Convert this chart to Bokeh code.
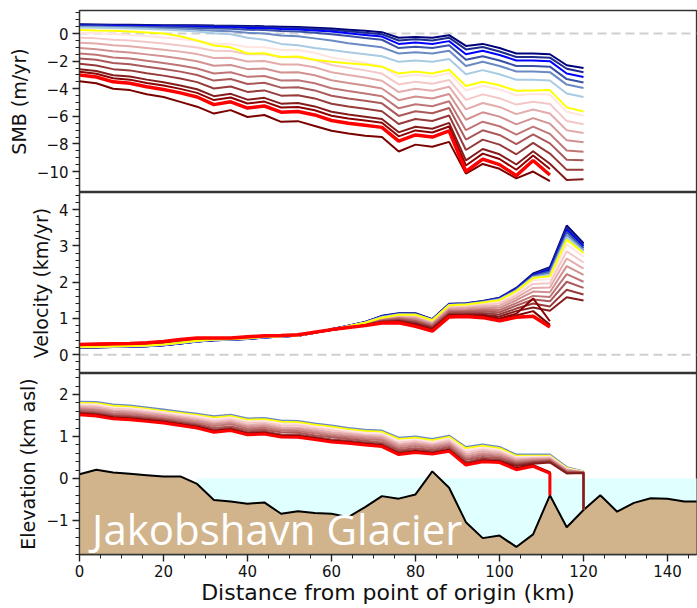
from bokeh.plotting import figure
from bokeh.layouts import column
from bokeh.models import Range1d, SingleIntervalTicker, Span, CustomJSTickFormatter
from bokeh.embed import file_html
from bokeh.resources import INLINE
from bokeh.core.properties import value

# ---------------- data ----------------
dist = [0, 4, 8, 12, 16, 20, 24, 28, 32, 36, 40, 44, 48, 52, 56, 60, 64, 68, 72, 76,
        80, 84, 88, 92, 96, 100, 104, 108, 112, 116, 120]

# SMB (m/yr)
smb_navy = [0.68,0.66,0.64,0.63,0.62,0.61,0.60,0.60,0.58,0.57,0.55,0.52,0.50,0.47,0.42,0.36,0.28,0.20,0.10,-0.30,-0.25,-0.30,-0.12,-0.90,-0.75,-1.05,-1.45,-1.45,-1.50,-2.30,-2.50]
smb_blue2 = [0.64,0.62,0.60,0.59,0.58,0.57,0.56,0.55,0.53,0.52,0.49,0.46,0.42,0.40,0.33,0.26,0.16,0.06,-0.05,-0.50,-0.42,-0.50,-0.30,-1.15,-0.98,-1.30,-1.70,-1.70,-1.75,-2.55,-2.80]
smb_blue3 = [0.58,0.57,0.56,0.55,0.54,0.52,0.51,0.49,0.46,0.45,0.41,0.38,0.33,0.30,0.22,0.14,0.02,-0.10,-0.22,-0.75,-0.65,-0.75,-0.55,-1.50,-1.25,-1.55,-1.95,-1.95,-2.00,-2.90,-3.15]
smb_blue4 = [0.53,0.52,0.50,0.49,0.47,0.45,0.43,0.40,0.36,0.34,0.28,0.25,0.18,0.14,0.05,-0.05,-0.18,-0.32,-0.45,-1.05,-0.95,-1.05,-0.85,-1.90,-1.65,-1.95,-2.35,-2.35,-2.40,-3.30,-3.55]
smb_blue5 = [0.48,0.47,0.45,0.43,0.40,0.37,0.33,0.28,0.20,0.16,0.05,0.00,-0.15,-0.20,-0.35,-0.50,-0.70,-0.85,-1.00,-1.45,-1.35,-1.45,-1.25,-2.35,-2.05,-2.35,-2.75,-2.75,-2.80,-3.70,-3.95]
smb_blue6 = [0.43,0.42,0.40,0.37,0.33,0.28,0.22,0.14,0.02,-0.05,-0.30,-0.45,-0.75,-0.85,-1.05,-1.20,-1.35,-1.50,-1.65,-2.05,-1.95,-2.05,-1.85,-2.95,-2.65,-2.95,-3.35,-3.35,-3.40,-4.35,-4.60]
smb_yellow = [0.25,0.22,0.20,0.15,0.08,0.00,-0.20,-0.50,-0.87,-1.00,-1.45,-1.43,-1.70,-1.67,-1.90,-2.05,-2.15,-2.25,-2.40,-2.90,-2.75,-2.90,-2.63,-3.80,-3.50,-3.75,-4.15,-4.12,-4.10,-5.35,-5.65]
smb_p1 = [0.06,0.02,-0.04,-0.10,-0.18,-0.29,-0.40,-0.54,-0.73,-0.77,-0.98,-0.99,-1.19,-1.20,-1.39,-1.74,-1.94,-2.14,-2.38,-3.15,-2.98,-3.13,-2.87,-4.13,-3.79,-4.05,-4.47,-4.39,-4.42,-5.67,-5.94]
smb_p2 = [-0.30,-0.35,-0.45,-0.51,-0.61,-0.73,-0.86,-1.01,-1.25,-1.26,-1.50,-1.49,-1.72,-1.72,-1.92,-2.28,-2.48,-2.67,-2.90,-3.69,-3.49,-3.64,-3.36,-4.81,-4.41,-4.69,-5.15,-4.95,-5.10,-6.34,-6.57]
smb_p3 = [-0.66,-0.72,-0.85,-0.92,-1.04,-1.17,-1.31,-1.49,-1.77,-1.75,-2.02,-1.99,-2.24,-2.24,-2.44,-2.81,-3.01,-3.19,-3.42,-4.24,-4.00,-4.15,-3.85,-5.50,-5.03,-5.32,-5.84,-5.51,-5.79,-7.01,-7.20]
smb_p4 = [-1.05,-1.13,-1.29,-1.37,-1.51,-1.65,-1.81,-2.01,-2.33,-2.28,-2.58,-2.53,-2.82,-2.81,-3.02,-3.39,-3.59,-3.77,-3.98,-4.83,-4.56,-4.71,-4.38,-6.25,-5.71,-6.02,-6.58,-6.13,-6.53,-7.74,-7.88]
smb_p5 = [-1.44,-1.53,-1.73,-1.81,-1.98,-2.13,-2.31,-2.53,-2.89,-2.81,-3.14,-3.08,-3.40,-3.38,-3.60,-3.97,-4.17,-4.35,-4.54,-5.42,-5.12,-5.27,-4.91,-7.00,-6.39,-6.72,-7.32,-6.74,-7.27,-8.47,-8.56]
smb_p6 = [-1.80,-1.90,-2.14,-2.22,-2.41,-2.57,-2.76,-3.00,-3.41,-3.30,-3.66,-3.57,-3.92,-3.90,-4.12,-4.51,-4.71,-4.87,-5.06,-5.97,-5.63,-5.78,-5.40,-7.69,-7.01,-7.35,-8.01,-7.31,-7.96,-9.14,-9.19]
smb_p7 = [-2.19,-2.31,-2.58,-2.67,-2.88,-3.05,-3.26,-3.52,-3.98,-3.84,-4.23,-4.12,-4.50,-4.47,-4.70,-5.09,-5.29,-5.45,-5.63,-6.56,-6.19,-6.34,-5.94,-8.44,-7.69,-8.05,-8.75,-7.92,-8.70,-9.88,-9.88]
smb_p8 = [-2.58,-2.71,-3.02,-3.12,-3.34,-3.53,-3.76,-4.04,-4.54,-4.37,-4.79,-4.66,-5.08,-5.04,-5.28,-5.67,-5.87,-6.03,-6.19,-7.16,-6.75,-6.90,-6.47,-9.19,-8.37,-8.75,-9.49,-8.53,-9.44,-10.61,-10.56]
smb_d1 = [-2.77,-2.91,-3.24,-3.34,-3.58,-3.77,-4.01,-4.30,-4.82,-4.64,-5.07,-4.93,-5.36,-5.32,-5.56,-5.96,-6.16,-6.31,-6.47,-7.45,-7.02,-7.17,-6.74,-9.56,-8.70,-9.09,-9.87,-8.84,-9.82]
smb_red = [-3.00,-3.15,-3.50,-3.60,-3.85,-4.05,-4.30,-4.60,-5.15,-4.95,-5.40,-5.25,-5.70,-5.65,-5.90,-6.30,-6.50,-6.65,-6.80,-7.80,-7.35,-7.50,-7.05,-10.00,-9.10,-9.50,-10.30,-9.20,-10.25]
smb_dark = [-3.45,-3.60,-4.00,-4.10,-4.40,-4.60,-4.95,-5.30,-5.80,-5.55,-6.05,-5.90,-6.40,-6.35,-6.70,-7.05,-7.25,-7.40,-7.50,-8.55,-8.05,-8.20,-7.85,-10.15,-9.45,-9.80,-10.50,-10.00,-10.70]

# Velocity (km/yr)
vel_navy = [0.20,0.20,0.21,0.22,0.23,0.26,0.31,0.36,0.40,0.41,0.43,0.47,0.50,0.52,0.60,0.70,0.80,0.90,1.07,1.14,1.14,0.98,1.40,1.42,1.48,1.57,1.84,2.24,2.41,3.56,3.07]
vel_blue2 = [0.20,0.20,0.21,0.22,0.23,0.26,0.31,0.36,0.40,0.41,0.43,0.47,0.50,0.52,0.60,0.70,0.80,0.90,1.06,1.13,1.13,0.97,1.39,1.41,1.47,1.56,1.82,2.21,2.38,3.50,3.03]
vel_blue3 = [0.21,0.21,0.21,0.22,0.23,0.26,0.31,0.36,0.40,0.41,0.44,0.47,0.50,0.52,0.60,0.70,0.79,0.89,1.06,1.13,1.12,0.97,1.39,1.40,1.46,1.55,1.81,2.19,2.34,3.44,2.98]
vel_blue4 = [0.21,0.21,0.22,0.23,0.24,0.27,0.32,0.37,0.41,0.42,0.44,0.48,0.50,0.52,0.60,0.70,0.79,0.89,1.05,1.12,1.12,0.96,1.38,1.40,1.46,1.54,1.79,2.17,2.30,3.38,2.93]
vel_blue5 = [0.21,0.21,0.22,0.23,0.24,0.27,0.32,0.37,0.41,0.42,0.44,0.48,0.51,0.53,0.60,0.69,0.79,0.89,1.04,1.11,1.11,0.96,1.37,1.39,1.45,1.53,1.78,2.15,2.25,3.30,2.88]
vel_blue6 = [0.22,0.22,0.22,0.23,0.24,0.27,0.32,0.37,0.41,0.42,0.45,0.48,0.51,0.53,0.61,0.69,0.78,0.88,1.03,1.11,1.10,0.95,1.37,1.38,1.44,1.52,1.76,2.13,2.20,3.24,2.84]
vel_yellow = [0.22,0.22,0.23,0.24,0.25,0.28,0.33,0.38,0.42,0.43,0.45,0.49,0.51,0.53,0.61,0.69,0.78,0.88,1.02,1.10,1.10,0.95,1.36,1.38,1.44,1.50,1.75,2.11,2.16,3.17,2.80]
vel_p1 = [0.22,0.22,0.23,0.24,0.26,0.29,0.34,0.39,0.42,0.43,0.45,0.49,0.51,0.53,0.61,0.69,0.78,0.87,1.01,1.09,1.08,0.93,1.34,1.36,1.41,1.46,1.71,2.05,2.08,3.04,2.70]
vel_p2 = [0.23,0.23,0.24,0.25,0.26,0.29,0.35,0.39,0.43,0.43,0.46,0.49,0.51,0.53,0.61,0.69,0.77,0.87,1.00,1.07,1.05,0.90,1.31,1.32,1.37,1.41,1.64,1.95,1.97,2.85,2.54]
vel_p3 = [0.24,0.24,0.25,0.26,0.27,0.30,0.36,0.40,0.43,0.44,0.46,0.50,0.51,0.53,0.61,0.69,0.77,0.86,0.98,1.04,1.02,0.87,1.27,1.29,1.33,1.35,1.57,1.84,1.85,2.65,2.37]
vel_p4 = [0.24,0.25,0.26,0.27,0.28,0.31,0.37,0.41,0.43,0.44,0.46,0.50,0.51,0.53,0.61,0.69,0.77,0.85,0.96,1.02,0.99,0.84,1.24,1.25,1.28,1.29,1.50,1.74,1.72,2.44,2.20]
vel_p5 = [0.25,0.26,0.27,0.28,0.29,0.32,0.38,0.42,0.44,0.44,0.47,0.50,0.52,0.54,0.61,0.68,0.76,0.84,0.95,1.00,0.95,0.81,1.20,1.21,1.24,1.23,1.42,1.62,1.59,2.22,2.01]
vel_p6 = [0.26,0.26,0.27,0.28,0.30,0.33,0.39,0.43,0.44,0.44,0.47,0.50,0.52,0.54,0.61,0.68,0.76,0.83,0.93,0.98,0.92,0.78,1.17,1.18,1.19,1.17,1.35,1.52,1.47,2.01,1.84]
vel_p7 = [0.26,0.27,0.28,0.29,0.31,0.34,0.40,0.44,0.45,0.45,0.48,0.51,0.52,0.54,0.61,0.68,0.75,0.82,0.92,0.95,0.88,0.75,1.13,1.14,1.14,1.11,1.27,1.41,1.33,1.79,1.66]
vel_p8 = [0.27,0.28,0.29,0.30,0.32,0.35,0.41,0.45,0.45,0.45,0.48,0.51,0.52,0.54,0.61,0.68,0.75,0.81,0.90,0.93,0.85,0.72,1.10,1.10,1.10,1.05,1.20,1.30,1.21,1.58,1.49]
vel_d1 = [0.27,0.28,0.29,0.30,0.32,0.35,0.41,0.45,0.45,0.45,0.48,0.51,0.52,0.54,0.61,0.68,0.75,0.81,0.89,0.91,0.82,0.69,1.08,1.08,1.07,1.00,1.13,1.55,0.92]
vel_red = [0.28,0.29,0.30,0.31,0.33,0.36,0.42,0.46,0.46,0.46,0.49,0.52,0.53,0.55,0.62,0.69,0.75,0.80,0.87,0.88,0.78,0.65,1.04,1.05,1.02,0.93,1.03,1.06,0.76]
vel_dark = [0.28,0.29,0.30,0.31,0.33,0.36,0.42,0.46,0.46,0.46,0.49,0.52,0.53,0.55,0.62,0.69,0.75,0.80,0.88,0.89,0.80,0.67,1.06,1.06,1.04,0.96,1.08,1.20,0.82]

# Surface elevation (km asl)
elev_blue = [1.83,1.82,1.76,1.74,1.69,1.64,1.59,1.54,1.48,1.52,1.43,1.44,1.38,1.37,1.31,1.26,1.20,1.16,1.14,0.97,1.00,0.94,1.02,0.75,0.81,0.75,0.57,0.57,0.57,0.27,0.17]
elev_yellow = [1.80,1.79,1.73,1.71,1.66,1.61,1.56,1.51,1.45,1.49,1.40,1.41,1.35,1.34,1.28,1.23,1.17,1.13,1.11,0.94,0.97,0.91,0.99,0.72,0.78,0.72,0.54,0.54,0.54,0.25,0.16]
elev_p1 = [1.77,1.76,1.69,1.67,1.63,1.58,1.53,1.48,1.41,1.45,1.36,1.37,1.31,1.30,1.24,1.19,1.13,1.09,1.07,0.90,0.93,0.87,0.95,0.67,0.74,0.68,0.51,0.52,0.52,0.23,0.16]
elev_p2 = [1.74,1.72,1.66,1.64,1.59,1.54,1.49,1.44,1.37,1.41,1.32,1.33,1.27,1.26,1.20,1.15,1.09,1.05,1.03,0.85,0.89,0.83,0.91,0.63,0.69,0.64,0.48,0.49,0.50,0.22,0.15]
elev_p3 = [1.70,1.69,1.62,1.60,1.56,1.51,1.46,1.40,1.33,1.37,1.27,1.29,1.22,1.21,1.16,1.10,1.06,1.02,0.99,0.81,0.85,0.80,0.87,0.58,0.65,0.60,0.45,0.47,0.48,0.20,0.15]
elev_p4 = [1.67,1.65,1.59,1.57,1.52,1.48,1.42,1.37,1.29,1.33,1.23,1.25,1.18,1.17,1.12,1.06,1.02,0.98,0.95,0.77,0.81,0.76,0.83,0.53,0.60,0.56,0.42,0.45,0.46,0.19,0.15]
elev_p5 = [1.64,1.62,1.55,1.53,1.49,1.44,1.39,1.33,1.25,1.29,1.19,1.21,1.14,1.13,1.08,1.02,0.98,0.94,0.91,0.72,0.77,0.72,0.79,0.48,0.56,0.52,0.39,0.42,0.44,0.17,0.14]
elev_p6 = [1.61,1.58,1.51,1.49,1.45,1.41,1.35,1.29,1.20,1.24,1.15,1.16,1.10,1.09,1.03,0.98,0.94,0.90,0.86,0.68,0.72,0.68,0.75,0.44,0.51,0.48,0.36,0.40,0.42,0.15,0.14]
elev_p7 = [1.57,1.55,1.48,1.46,1.42,1.38,1.32,1.26,1.16,1.20,1.10,1.12,1.05,1.04,0.99,0.93,0.90,0.86,0.82,0.64,0.68,0.64,0.71,0.39,0.47,0.44,0.33,0.38,0.40,0.14,0.13]
elev_p8 = [1.54,1.51,1.44,1.42,1.38,1.34,1.28,1.22,1.12,1.16,1.06,1.08,1.01,1.00,0.95,0.89,0.86,0.82,0.78,0.59,0.64,0.60,0.67,0.34,0.42,0.40,0.30,0.35,0.38,0.12,0.13]
elev_d1 = [1.55,1.52,1.45,1.43,1.39,1.35,1.29,1.23,1.13,1.17,1.07,1.09,1.02,1.01,0.96,0.90,0.87,0.83,0.79,0.60,0.65,0.61,0.68,0.35,0.43,0.41,0.25,0.32,0.15]
elev_red = [1.52,1.49,1.42,1.40,1.36,1.32,1.26,1.20,1.10,1.14,1.04,1.06,0.99,0.98,0.93,0.87,0.84,0.80,0.76,0.57,0.62,0.58,0.65,0.32,0.40,0.38,0.21,0.29,0.12]

# Bed topography (km asl)
bed_x = [0, 4, 8, 12, 16, 20, 24, 28, 32, 36, 40, 44, 48, 52, 56, 60, 64, 68, 72, 76,
         80, 84, 88, 92, 96, 100, 104, 108, 112, 116, 120, 124, 128, 132, 136, 140, 144, 148]
bed_y = [0.10,0.21,0.14,0.11,0.08,0.05,0.05,-0.13,-0.51,-0.55,-0.60,-0.57,-0.84,-0.78,-0.82,-0.84,-0.92,-0.68,-0.42,-0.48,
         -0.38,0.17,-0.22,-1.04,-1.42,-1.36,-1.63,-1.33,-0.40,-1.16,-0.75,-0.40,-0.79,-0.58,-0.47,-0.48,-0.55,-0.55]
water_start = 28

glacier_name = "Jakobshavn Glacier"

# ---------------- styling ----------------
FONT = "DejaVu Sans"
X_MAX = 146.9
LEFT = 79
W = 697

C_NAVY, C_BLUE2, C_BLUE3, C_BLUE4, C_BLUE5, C_BLUE6 = "#00007a", "#1c2c8c", "#0000ff", "#3a52a6", "#6a8ac4", "#a8cbe3"
C_P = ["#ffe4e1", "#f4c8c8", "#e4abab", "#d29090", "#bf7575", "#aa5858", "#963a3a", "#851c1c"]
C_YEL, C_D1, C_DARK, C_RED = "#ffff00", "#8b0000", "#7a0000", "#ff0000"

smb_series = ([(C_NAVY, 2, smb_navy), (C_BLUE2, 2, smb_blue2), (C_BLUE3, 2, smb_blue3),
               (C_BLUE4, 2, smb_blue4), (C_BLUE5, 2, smb_blue5), (C_BLUE6, 2, smb_blue6)]
              + list(zip(C_P, [2] * 8, [smb_p1, smb_p2, smb_p3, smb_p4, smb_p5, smb_p6, smb_p7, smb_p8]))
              + [(C_YEL, 2, smb_yellow), (C_D1, 2, smb_d1), (C_DARK, 2, smb_dark), (C_RED, 3.5, smb_red)])
vel_series = ([(C_NAVY, 2, vel_navy), (C_BLUE2, 2, vel_blue2), (C_BLUE3, 2, vel_blue3),
               (C_BLUE4, 2, vel_blue4), (C_BLUE5, 2, vel_blue5), (C_BLUE6, 2, vel_blue6)]
              + list(zip(C_P, [2] * 8, [vel_p1, vel_p2, vel_p3, vel_p4, vel_p5, vel_p6, vel_p7, vel_p8]))
              + [(C_YEL, 2, vel_yellow), (C_D1, 2, vel_d1), (C_DARK, 2, vel_dark), (C_RED, 3.5, vel_red)])
elev_series = ([(C_BLUE5, 2, elev_blue), (C_YEL, 2, elev_yellow)]
               + list(zip(C_P, [2] * 8, [elev_p1, elev_p2, elev_p3, elev_p4, elev_p5, elev_p6, elev_p7, elev_p8]))
               + [(C_D1, 2, elev_d1), (C_RED, 3, elev_red)])

minus_fmt = CustomJSTickFormatter(code="return tick < 0 ? '\u2212' + String(Math.abs(tick)) : String(tick);")


def style(p, ylabel, yint, yminor):
    p.xgrid.visible = False
    p.ygrid.visible = False
    p.outline_line_color = "#333333"
    p.outline_line_width = 1.3
    p.background_fill_color = "white"
    p.border_fill_color = "white"
    p.yaxis.ticker = SingleIntervalTicker(interval=yint, num_minor_ticks=yminor)
    p.yaxis.formatter = minus_fmt
    p.yaxis.axis_label = ylabel
    for ax in p.xaxis + p.yaxis:
        ax.axis_line_color = "#333333"
        ax.axis_line_width = 1.3
        ax.major_tick_in = 0
        ax.major_tick_out = 7
        ax.minor_tick_in = 0
        ax.minor_tick_out = 4
        ax.major_tick_line_width = 1.4
        ax.minor_tick_line_width = 1
        ax.major_tick_line_color = "#222222"
        ax.minor_tick_line_color = "#222222"
        ax.major_label_text_font = FONT
        ax.major_label_text_font_size = "15px"
        ax.major_label_text_color = "#111111"
        ax.major_label_standoff = 4
        ax.axis_label_text_font = FONT
        ax.axis_label_text_font_style = "normal"
        ax.axis_label_text_color = "#111111"
    p.yaxis.axis_label_text_font_size = "19px"
    p.yaxis.axis_label_standoff = 4


x_range = Range1d(0, X_MAX)

# ---- SMB panel ----
p1 = figure(width=W, height=192, x_range=x_range, y_range=Range1d(-11.52, 1.67),
            output_backend="svg", toolbar_location=None,
            min_border_left=LEFT, min_border_right=1, min_border_top=10, min_border_bottom=0)
style(p1, "SMB (m/yr)", 2, 4)
p1.xaxis.visible = False
p1.add_layout(Span(location=0, dimension="width", line_color="#d0d0d0", line_width=2,
                   line_dash="9 5", level="underlay"))
for color, lw, s in smb_series:
    p1.line(dist[:len(s)], s, line_color=color, line_width=lw)

# ---- Velocity panel ----
p2 = figure(width=W, height=181, x_range=x_range, y_range=Range1d(-0.52, 4.47),
            output_backend="svg", toolbar_location=None,
            min_border_left=LEFT, min_border_right=1, min_border_top=0, min_border_bottom=0)
style(p2, "Velocity (km/yr)", 1, 5)
p2.xaxis.visible = False
p2.add_layout(Span(location=0, dimension="width", line_color="#d0d0d0", line_width=2,
                   line_dash="9 5", level="underlay"))
for color, lw, v in vel_series:
    p2.line(dist[:len(v)], v, line_color=color, line_width=lw)

# ---- Elevation panel ----
y_bottom = -1.81
p3 = figure(width=W, height=235, x_range=x_range, y_range=Range1d(y_bottom, 2.5),
            output_backend="svg", toolbar_location=None,
            min_border_left=LEFT, min_border_right=1, min_border_top=0, min_border_bottom=54)
style(p3, "Elevation (km asl)", 1, 5)
p3.xaxis.ticker = SingleIntervalTicker(interval=20, num_minor_ticks=4)
p3.xaxis.axis_label = "Distance from point of origin (km)"
p3.xaxis.axis_label_text_font_size = "22px"
p3.xaxis.major_label_standoff = 3
p3.xaxis.axis_label_standoff = 0

wx = [x for x in bed_x if x >= water_start]
wy = [y for x, y in zip(bed_x, bed_y) if x >= water_start]
p3.varea(x=wx, y1=wy, y2=[0] * len(wx), fill_color="#e0ffff")
p3.varea(x=bed_x, y1=[y_bottom] * len(bed_x), y2=bed_y, fill_color="#d2b48c")
p3.line(bed_x, bed_y, line_color="black", line_width=2)

for color, lw, e in elev_series:
    n = len(e)
    xs = dist[:n] + [dist[n - 1]]
    ys = e + [bed_y[bed_x.index(dist[n - 1])]]
    p3.line(xs, ys, line_color=color, line_width=lw)

p3.text(x=[3.0], y=[-1.2], text=[glacier_name], text_font=value("Open Sans"),
        text_font_size="42px", text_color="white", text_baseline="alphabetic",
        text_align="left")

layout = column(p1, p2, p3, spacing=0)
open("out.html", "w").write(file_html(layout, INLINE))
